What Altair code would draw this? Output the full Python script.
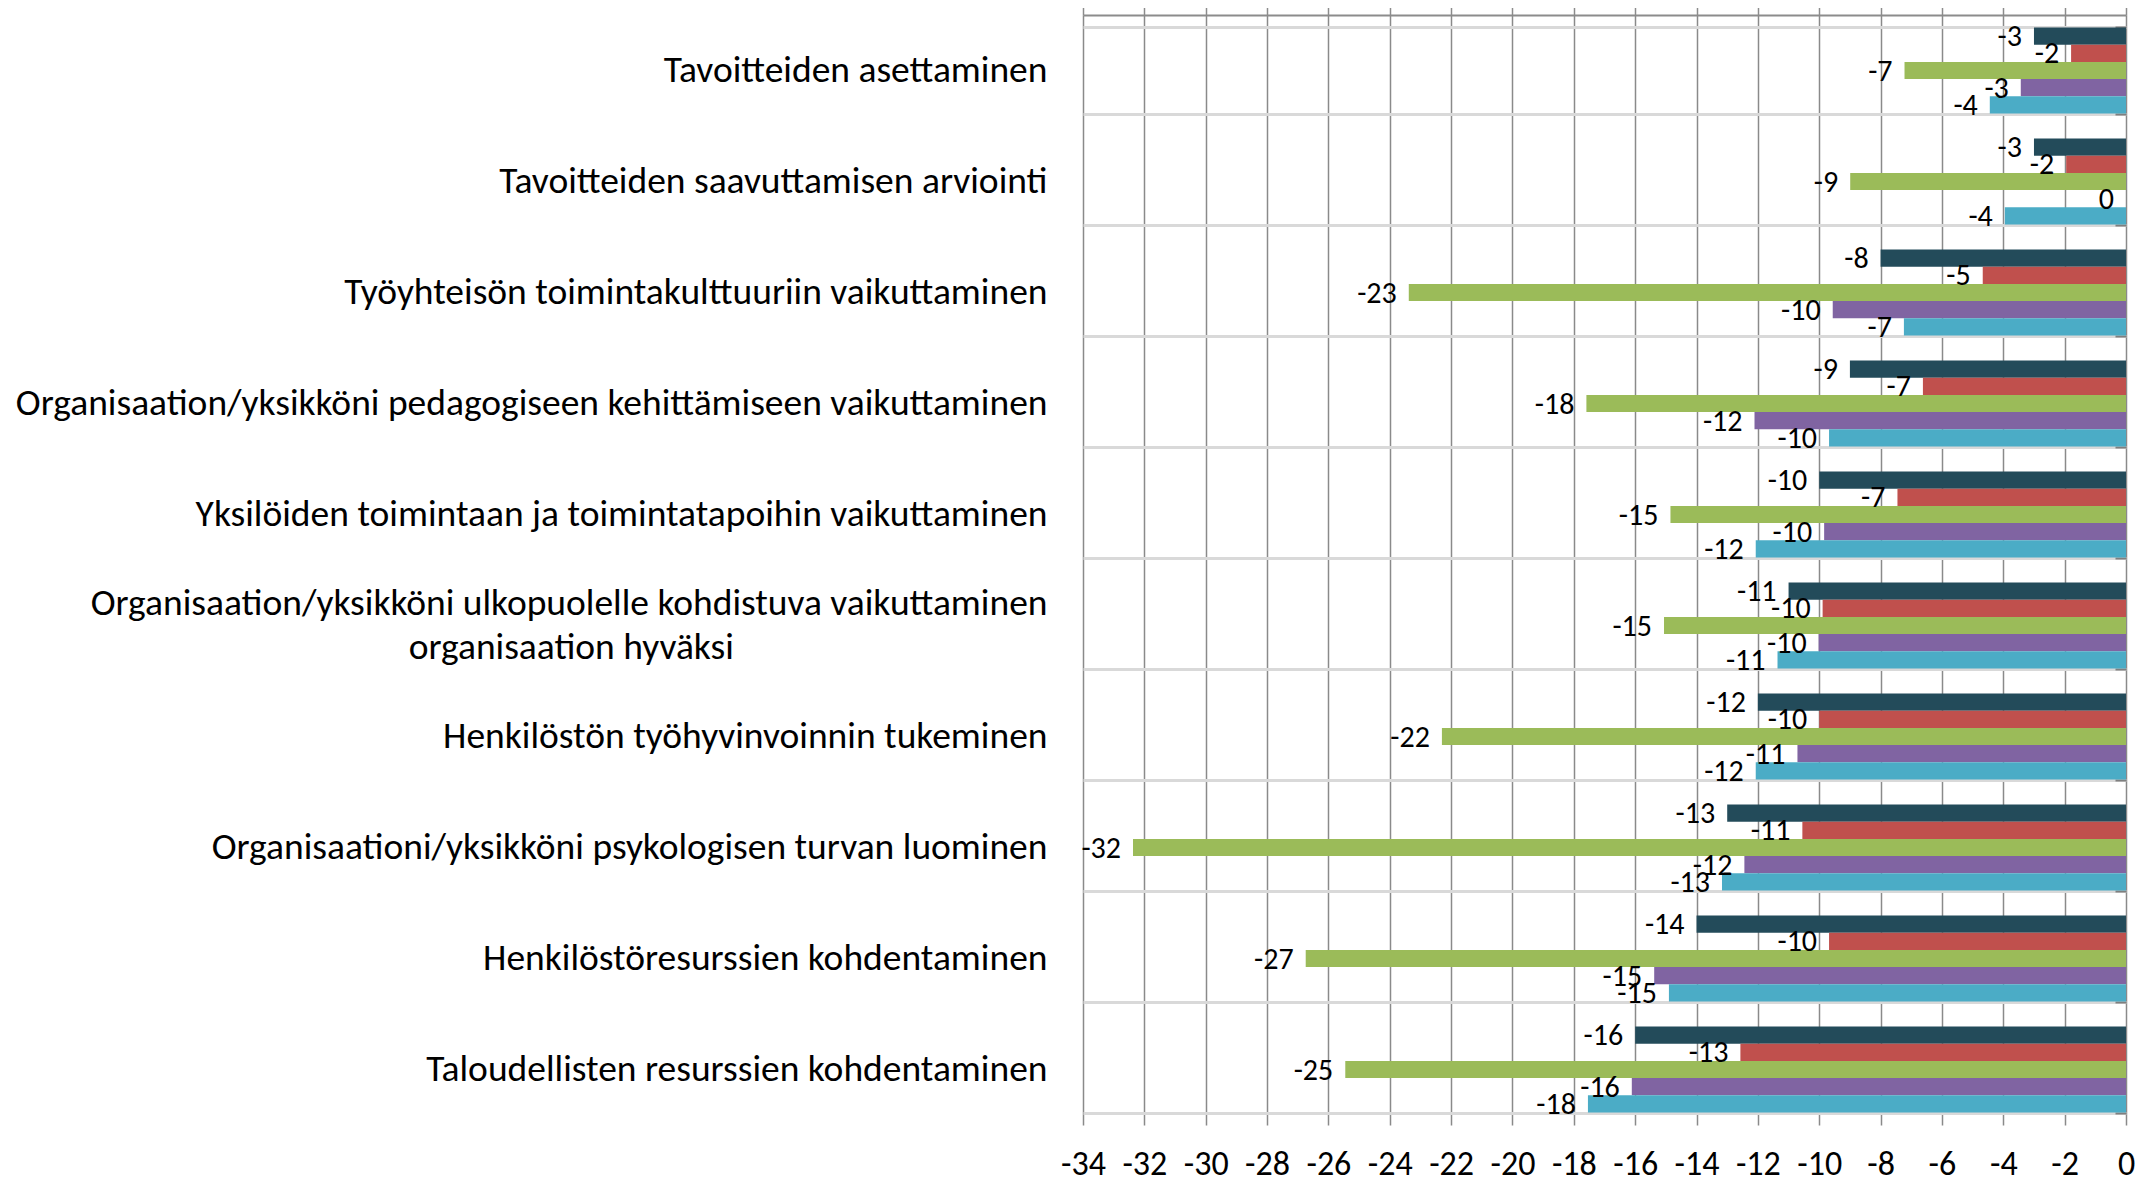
import altair as alt
import pandas as pd

categories = [
    "Tavoitteiden asettaminen",
    "Tavoitteiden saavuttamisen arviointi",
    "Työyhteisön toimintakulttuuriin vaikuttaminen",
    "Organisaation/yksikköni pedagogiseen kehittämiseen vaikuttaminen",
    "Yksilöiden toimintaan ja toimintatapoihin vaikuttaminen",
    "Organisaation/yksikköni ulkopuolelle kohdistuva vaikuttaminen organisaation hyväksi",
    "Henkilöstön työhyvinvoinnin tukeminen",
    "Organisaationi/yksikköni psykologisen turvan luominen",
    "Henkilöstöresurssien kohdentaminen",
    "Taloudellisten resurssien kohdentaminen",
]

series_names = ["Sarja 1", "Sarja 2", "Sarja 3", "Sarja 4", "Sarja 5"]
series_colors = ["#234B5A", "#C0504D", "#9BBB59", "#8064A2", "#4BACC6"]

s1 = [-3.0, -3.0, -8.0, -9.0, -10.0, -11.0, -12.0, -13.0, -14.0, -16.0]
s2 = [-1.79, -1.95, -4.67, -6.62, -7.45, -9.89, -10.0, -10.55, -9.68, -12.57]
s3 = [-7.22, -8.99, -23.38, -17.59, -14.85, -15.06, -22.3, -32.37, -26.74, -25.45]
s4 = [-3.43, 0.0, -9.56, -12.11, -9.84, -10.02, -10.71, -12.44, -15.38, -16.11]
s5 = [-4.44, -3.95, -7.24, -9.68, -12.07, -11.36, -12.07, -13.17, -14.9, -17.54]

x_ticks = list(range(-34, 1, 2))

rows = []
for name, vals in zip(series_names, [s1, s2, s3, s4, s5]):
    for cat, v in zip(categories, vals):
        rows.append({"kategoria": cat, "sarja": name, "arvo": v,
                     "teksti": str(int(round(v)))})
df = pd.DataFrame(rows)

FONT = "Carlito, Lato, sans-serif"

long_label = categories[5]
line1 = "Organisaation/yksikköni ulkopuolelle kohdistuva vaikuttaminen"
line2 = "organisaation hyväksi" + "\u00a0" * 37 + "\u2060"
label_expr = (
    f"datum.label == '{long_label}' ? ['{line1}', '{line2}'] : datum.label"
)

x_scale = alt.Scale(domain=[-34, 0], nice=False, zero=False)
y_scale = alt.Scale(paddingInner=0.225, paddingOuter=0.1125)
color_scale = alt.Scale(domain=series_names, range=series_colors)

base = alt.Chart(df)

bars = base.mark_bar().encode(
    x=alt.X("arvo:Q", scale=x_scale,
            axis=alt.Axis(orient="bottom", values=x_ticks, domain=False, ticks=False,
                          grid=True, gridColor="#8a8a8a", gridWidth=1.5,
                          labelFontSize=34, labelFont=FONT, labelColor="#000000",
                          labelExpr="'' + datum.value",
                          labelPadding=22, title=None, labelFlush=False)),
    y=alt.Y("kategoria:N", sort=categories, scale=y_scale,
            axis=alt.Axis(orient="left", domain=False, ticks=False, grid=True,
                          tickBand="extent", gridColor="#d9d9d9", gridWidth=3,
                          labelFontSize=37.5, labelFont=FONT, labelColor="#000000",
                          labelLimit=1100, labelPadding=36, labelLineHeight=44,
                          labelOffset={"condition": {"test": f"datum.label == '{long_label}'",
                                                     "value": -22},
                                       "value": 0},
                          labelExpr=label_expr, title=None)),
    yOffset=alt.YOffset("sarja:N", sort=series_names),
    color=alt.Color("sarja:N", scale=color_scale, legend=None),
)

labels = base.mark_text(align="right", baseline="middle", dx=-12, dy=1,
                        fontSize=30, font=FONT, color="#000000").encode(
    x=alt.X("arvo:Q", scale=x_scale,
            axis=alt.Axis(orient="top", values=x_ticks, labels=False, grid=False,
                          domain=True, domainColor="#8c8c8c", domainWidth=2,
                          ticks=True, tickSize=10, tickColor="#8c8c8c", tickWidth=1.5,
                          title=None)),
    y=alt.Y("kategoria:N", sort=categories, scale=y_scale,
            axis=alt.Axis(orient="right", labels=False, domain=False, grid=False,
                          ticks=True, tickBand="extent", tickSize=11, tickColor="#7f7f7f",
                          tickWidth=2, offset=-11, title=None)),
    yOffset=alt.YOffset("sarja:N", sort=series_names),
    text="teksti:N",
)

chart = alt.layer(bars, labels).resolve_axis(x="independent", y="independent").properties(
    width=1043,
    height=1110,
    autosize=alt.AutoSizeParams(type="none"),
    padding={"left": 1075, "top": 7, "right": 20, "bottom": 57},
).configure_view(stroke=None)

chart.save("out.html", embed_options={"renderer": "svg", "actions": False})
